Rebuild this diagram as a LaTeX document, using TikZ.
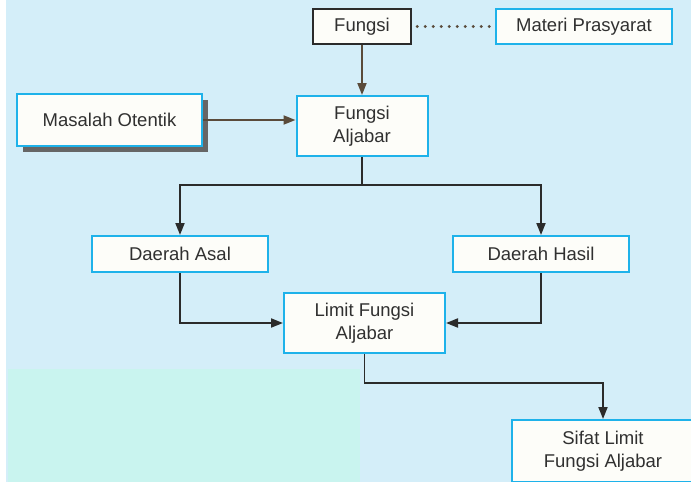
\documentclass[tikz,border=0pt]{standalone}
\usepackage{fontspec}
\setmainfont{Liberation Sans}
\usetikzlibrary{arrows.meta,shadows}
\definecolor{bgblue}{HTML}{D4EEF9}
\definecolor{cyanbox}{HTML}{C9F4EF}
\definecolor{bordercyan}{HTML}{1EB2EA}
\definecolor{darkline}{HTML}{2B2B2B}
\definecolor{brownline}{HTML}{5A4B3B}
\definecolor{txt}{HTML}{303030}
\definecolor{boxfill}{HTML}{FDFDF9}
\tikzset{
  box/.style={draw=bordercyan, line width=2pt, fill=boxfill, inner sep=0pt, align=center,
    text=txt, font=\fontsize{18.5}{23.5}\selectfont},
  darkbox/.style={box, draw=darkline, line width=2.4pt},
  conn/.style={draw=darkline, line width=1.8pt, -{Triangle[length=12pt,width=9pt]}},
  bconn/.style={conn, draw=brownline},
  plainconn/.style={draw=darkline, line width=1.8pt},
}
\begin{document}
\begin{tikzpicture}[x=1pt,y=-1pt]
\useasboundingbox (0,0) rectangle (691,482);
\fill[white] (0,0) rectangle (691,482);
\fill[bgblue] (6,0) rectangle (691,482);
\fill[cyanbox] (8,369) rectangle (360,482);
% nodes
\node[darkbox, minimum width=98pt, minimum height=35pt] (fungsi) at (362,26.5) {Fungsi};
\node[box, minimum width=176pt, minimum height=35pt] (materi) at (584,26.5) {Materi Prasyarat};
\fill[black!60] (23,100) rectangle (208,152);
\node[box, minimum width=185pt, minimum height=52pt] (masalah) at (109.5,120) {Masalah Otentik};
\node[box, minimum width=131pt, minimum height=60pt] (aljabar) at (362,126) {Fungsi\\Aljabar};
\node[box, minimum width=176pt, minimum height=36pt] (asal) at (180,254) {Daerah Asal};
\node[box, minimum width=176pt, minimum height=36pt] (hasil) at (541,254) {Daerah Hasil};
\node[box, minimum width=161pt, minimum height=60pt] (limit) at (364.5,323) {Limit Fungsi\\Aljabar};
\node[box, minimum width=182pt, minimum height=62pt] (sifat) at (603,451) {Sifat Limit\\Fungsi Aljabar};
% connectors
\draw[brownline, line width=3.4pt, dash pattern=on 0pt off 8pt, line cap=round] ([xshift=5pt]fungsi.east) -- ([xshift=-4pt]materi.west);
\draw[bconn] (fungsi.south) -- (fungsi.south |- aljabar.north);
\draw[bconn] (masalah.east) -- (masalah.east -| aljabar.west);
\coordinate (split) at (362,185);
\draw[plainconn] (aljabar.south) -- (split);
\draw[conn] (split) -| (asal.north);
\draw[conn] (split) -| (hasil.north);
\draw[conn] (asal.south) |- (limit.west);
\draw[conn] (hasil.south) |- (limit.east);
\coordinate (lowturn) at (364.5,383);
\draw[conn] (limit.south) -- (lowturn) -| (sifat.north);
\end{tikzpicture}
\end{document}
